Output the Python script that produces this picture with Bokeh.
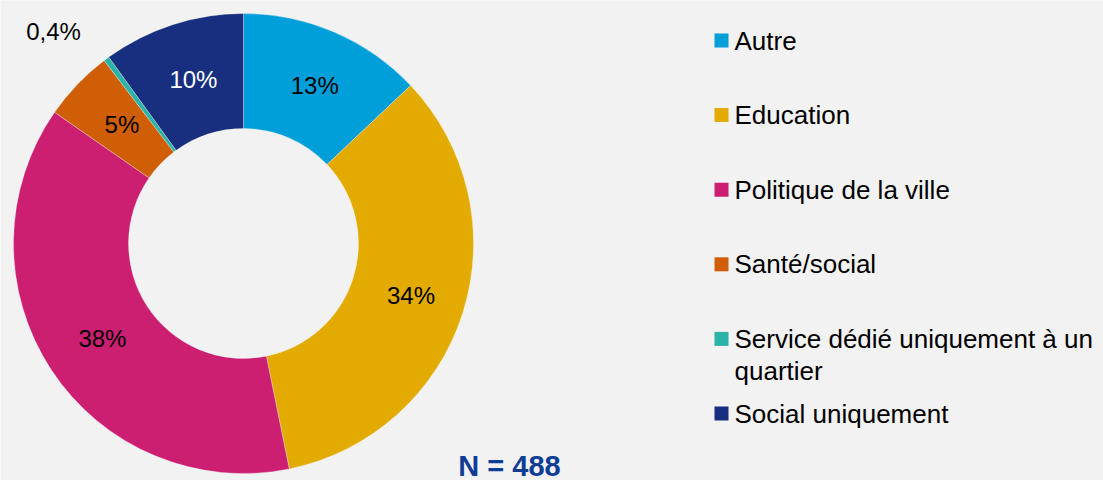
import math
from bokeh.plotting import figure
from bokeh.models import Range1d, ColumnDataSource
from bokeh.core.properties import value
from bokeh.embed import file_html
from bokeh.resources import INLINE

categories = ["Autre", "Education", "Politique de la ville", "Santé/social",
              "Service dédié uniquement à un quartier", "Social uniquement"]
legend_lines = [["Autre"], ["Education"], ["Politique de la ville"], ["Santé/social"],
                ["Service dédié uniquement à un", "quartier"], ["Social uniquement"]]
values = [13, 34, 38, 5, 0.4, 10]
labels = ["13%", "34%", "38%", "5%", "0,4%", "10%"]
colors = ["#009FDA", "#E3AA00", "#CC1F72", "#D05E07", "#2AB3A6", "#172F7E"]
label_colors = ["#000000", "#000000", "#000000", "#000000", "#000000", "#FFFFFF"]
n_text = "N = 488"

BG = "#F2F2F2"
FONT = "Liberation Sans"
W, H = 1103, 480

p = figure(width=W, height=H, output_backend="svg", toolbar_location=None,
           x_range=Range1d(0, W), y_range=Range1d(0, H),
           min_border=0, background_fill_color=BG, border_fill_color=BG)
p.axis.visible = False
p.grid.visible = False
p.outline_line_color = None

cx, cy = 243, H - 243
r_out, r_in = 230, 115
total = sum(values)
starts, ends, mids = [], [], []
acc = 0.0
for v in values:
    f0 = acc / total
    acc += v
    f1 = acc / total
    starts.append(math.pi / 2 - f1 * 2 * math.pi)
    ends.append(math.pi / 2 - f0 * 2 * math.pi)
    mids.append(math.pi / 2 - (f0 + f1) / 2 * 2 * math.pi)

src = ColumnDataSource(dict(x=[cx] * len(values), y=[cy] * len(values),
                            start=starts, end=ends, color=colors))
p.annular_wedge(x="x", y="y", inner_radius=r_in, outer_radius=r_out,
                start_angle="start", end_angle="end", fill_color="color",
                line_color="white", line_width=0.3, source=src)

# slice labels
r_lab = (r_in + r_out) / 2
lx, ly = [], []
for i, m in enumerate(mids):
    if values[i] < 1:
        # small slice: label placed outside, upper-left
        lx.append(cx - 190)
        ly.append(cy + 212)
    else:
        lx.append(cx + r_lab * math.cos(m) + 3)
        ly.append(cy + r_lab * math.sin(m))
p.text(x=lx, y=ly, text=labels, text_color=label_colors, text_align="center",
       text_baseline="middle", text_font=value(FONT), text_font_size="24px")

# legend
leg_x_sq = 721
leg_x_txt = 734
leg_y0 = 40
leg_dy = 74.6
line_gap = 32
sq_x, sq_y, tx, ty, tt = [], [], [], [], []
for i, lines in enumerate(legend_lines):
    yy = leg_y0 + i * leg_dy
    sq_x.append(leg_x_sq)
    sq_y.append(H - yy)
    for j, ln in enumerate(lines):
        tx.append(leg_x_txt)
        ty.append(H - (yy + j * line_gap))
        tt.append(ln)
p.rect(x=sq_x, y=sq_y, width=14, height=14, fill_color=colors, line_color=None)
p.text(x=tx, y=ty, text=tt, text_color="#000000", text_align="left",
       text_baseline="middle", text_font=value(FONT), text_font_size="26px")

# N label
p.text(x=[509], y=[H - 465], text=[n_text], text_color="#0F3D96",
       text_align="center", text_baseline="middle", text_font=value(FONT),
       text_font_size="29px", text_font_style="bold")

open("out.html", "w").write(file_html(p, INLINE))
